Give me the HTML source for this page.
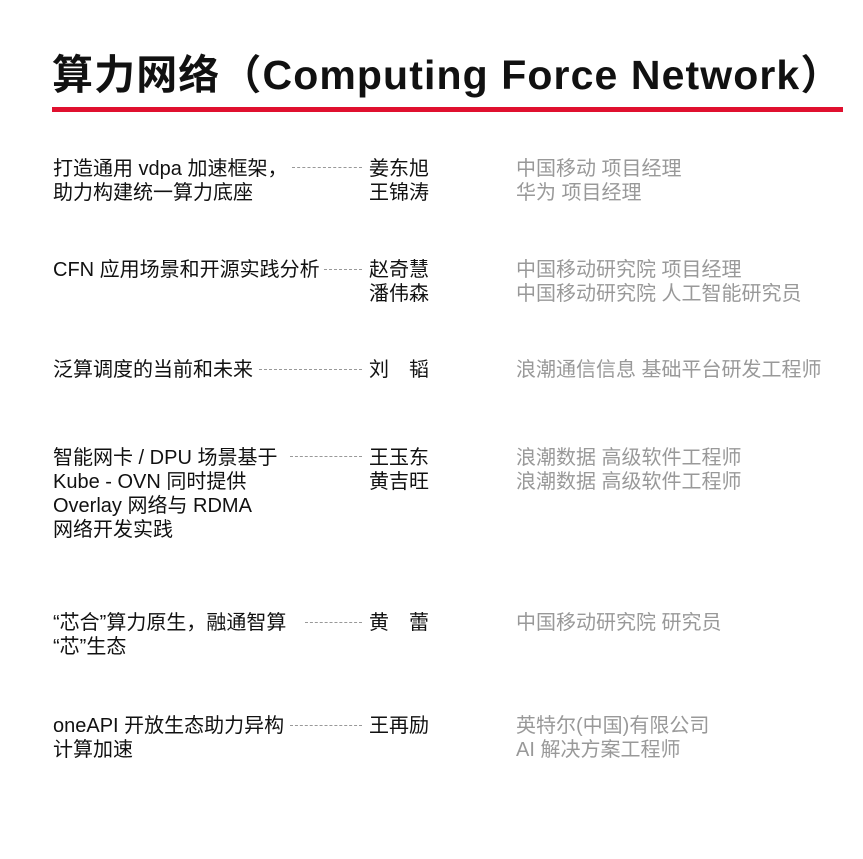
<!DOCTYPE html>
<html><head><meta charset="utf-8"><style>
body{margin:0;width:863px;height:859px;background:#fff;position:relative;overflow:hidden;font-family:"Liberation Sans","Noto Sans CJK SC",sans-serif;}
.t{position:absolute;left:52px;top:48px;font-size:41px;font-weight:bold;color:#111;white-space:nowrap;line-height:54px;letter-spacing:1.1px}
.bar{position:absolute;left:52px;top:107px;width:791px;height:5px;background:#e0102f}
.a,.n,.g{position:absolute;font-size:20px;line-height:24px;white-space:nowrap;color:#111}
.a{left:53px}.n{left:369px}.g{left:516px;color:#999}
.d{position:absolute;height:0;border-top:1px dashed #999}
</style></head><body>
<div class="t">算力网络（Computing Force Network）</div>
<div class="bar"></div>

<div class="a" style="top:157px">打造通用 vdpa 加速框架，<br>助力构建统一算力底座</div>
<div class="d" style="left:292px;width:70px;top:167px"></div>
<div class="n" style="top:157px">姜东旭<br>王锦涛</div>
<div class="g" style="top:157px">中国移动 项目经理<br>华为 项目经理</div>

<div class="a" style="top:258px">CFN 应用场景和开源实践分析</div>
<div class="d" style="left:324px;width:38px;top:269px"></div>
<div class="n" style="top:258px">赵奇慧<br>潘伟森</div>
<div class="g" style="top:258px">中国移动研究院 项目经理<br>中国移动研究院 人工智能研究员</div>

<div class="a" style="top:358px">泛算调度的当前和未来</div>
<div class="d" style="left:259px;width:103px;top:369px"></div>
<div class="n" style="top:358px">刘　韬</div>
<div class="g" style="top:358px">浪潮通信信息 基础平台研发工程师</div>

<div class="a" style="top:446px">智能网卡 / DPU 场景基于<br>Kube - OVN 同时提供<br>Overlay 网络与 RDMA<br>网络开发实践</div>
<div class="d" style="left:290px;width:72px;top:456px"></div>
<div class="n" style="top:446px">王玉东<br>黄吉旺</div>
<div class="g" style="top:446px">浪潮数据 高级软件工程师<br>浪潮数据 高级软件工程师</div>

<div class="a" style="top:611px">“芯合”算力原生，融通智算<br>“芯”生态</div>
<div class="d" style="left:305px;width:57px;top:622px"></div>
<div class="n" style="top:611px">黄　蕾</div>
<div class="g" style="top:611px">中国移动研究院 研究员</div>

<div class="a" style="top:714px">oneAPI 开放生态助力异构<br>计算加速</div>
<div class="d" style="left:290px;width:72px;top:725px"></div>
<div class="n" style="top:714px">王再励</div>
<div class="g" style="top:714px">英特尔(中国)有限公司<br>AI 解决方案工程师</div>
</body></html>
